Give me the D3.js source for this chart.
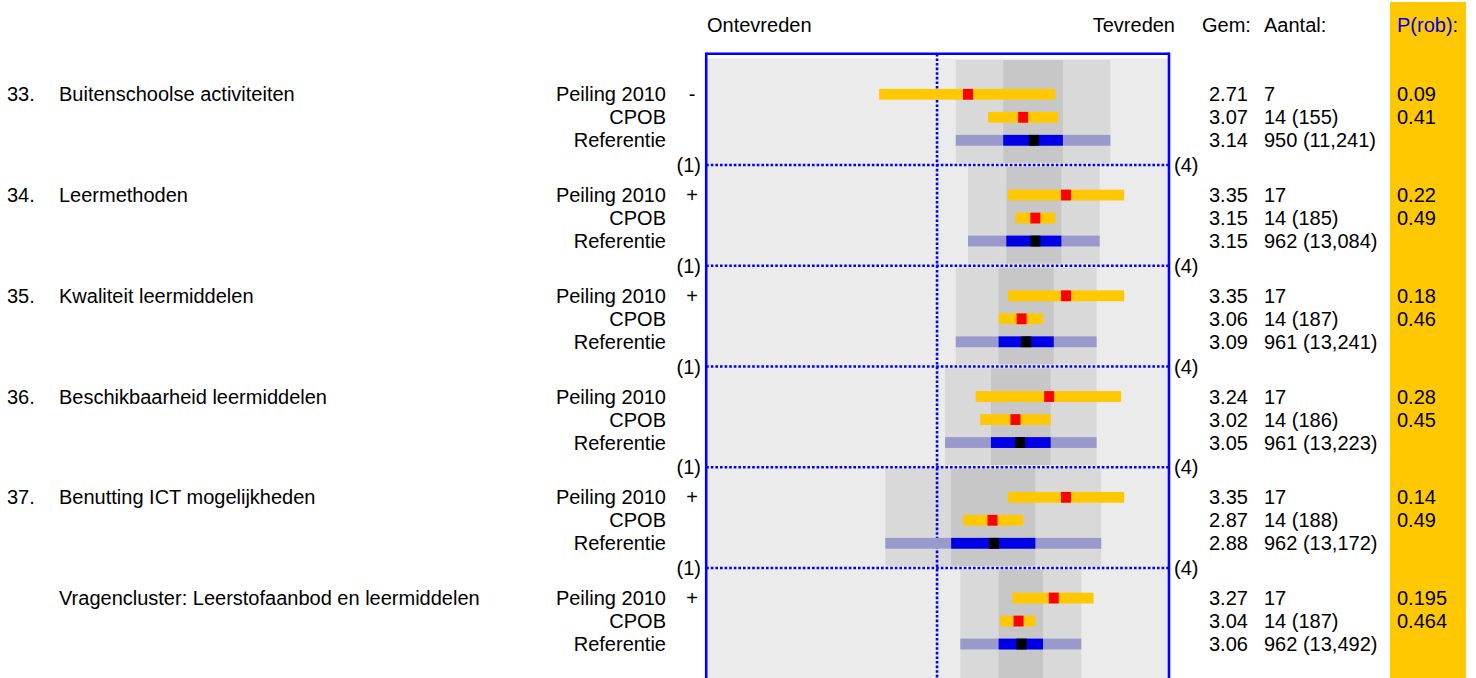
<!DOCTYPE html>
<html><head><meta charset="utf-8">
<script src="https://cdn.jsdelivr.net/npm/d3@7"></script>
<style>
html,body{margin:0;padding:0;background:#fff;}
svg{display:block;font-family:"Liberation Sans",Arial,sans-serif;font-size:20px;}
</style></head>
<body>
<svg id="chart" width="1476" height="678"></svg>
<script>
// ---- data ----
const groupNums   = ["33.", "34.", "35.", "36.", "37.", ""];
const groupLabels = ["Buitenschoolse activiteiten", "Leermethoden", "Kwaliteit leermiddelen",
                     "Beschikbaarheid leermiddelen", "Benutting ICT mogelijkheden",
                     "Vragencluster: Leerstofaanbod en leermiddelen"];
const signs       = ["-", "+", "+", "", "+", "+"];
const rowLabels   = ["Peiling 2010", "CPOB", "Referentie"];

const peilingMean = [2.71, 3.35, 3.35, 3.24, 3.35, 3.27];
const peilingLow  = [2.13, 2.97, 2.97, 2.76, 2.97, 3.00];
const peilingHigh = [3.28, 3.73, 3.73, 3.71, 3.73, 3.53];

const cpobMean = [3.07, 3.15, 3.06, 3.02, 2.87, 3.04];
const cpobLow  = [2.84, 3.02, 2.91, 2.79, 2.68, 2.92];
const cpobHigh = [3.30, 3.28, 3.20, 3.25, 3.07, 3.15];

const refMean      = [3.14, 3.15, 3.09, 3.05, 2.88, 3.06];
const refOuterLow  = [2.63, 2.71, 2.63, 2.56, 2.17, 2.66];
const refOuterHigh = [3.64, 3.57, 3.55, 3.55, 3.58, 3.45];
const refInnerLow  = [2.94, 2.96, 2.91, 2.86, 2.60, 2.91];
const refInnerHigh = [3.33, 3.32, 3.27, 3.25, 3.15, 3.20];

const peilingN = ["7", "17", "17", "17", "17", "17"];
const cpobN    = ["14 (155)", "14 (185)", "14 (187)", "14 (186)", "14 (188)", "14 (187)"];
const refN     = ["950 (11,241)", "962 (13,084)", "961 (13,241)", "961 (13,223)", "962 (13,172)", "962 (13,492)"];
const peilingP = ["0.09", "0.22", "0.18", "0.28", "0.14", "0.195"];
const cpobP    = ["0.41", "0.49", "0.46", "0.45", "0.49", "0.464"];

const scaleMin = 1, scaleMax = 4, scaleMid = 2.5;
const scaleMinLabel = "(1)", scaleMaxLabel = "(4)";
const headLeft = "Ontevreden", headRight = "Tevreden";
const headGem = "Gem:", headAantal = "Aantal:", headP = "P(rob):";

// ---- drawing ----
const svg = d3.select("#chart");
const W = 1476, H = 678;
const nG = groupNums.length;

const x = d3.scaleLinear().domain([scaleMin, scaleMax]).range([706.2, 1165.5]);
const gy = d3.scaleLinear().domain([0, nG]).range([63.6, 63.6 + nG * 100.75]);
const rowY = d3.scaleBand().domain([0, 1, 2]).range([19.2, 88.2]).paddingInner(0.53).paddingOuter(0.265);

const boxL = 706.2, boxR = 1169, boxT = 53.8;

const groups = d3.range(nG).map(i => ({
  i,
  rows: [
    {label: rowLabels[0], mean: peilingMean[i], lo: peilingLow[i], hi: peilingHigh[i], n: peilingN[i], p: peilingP[i], kind: "p"},
    {label: rowLabels[1], mean: cpobMean[i], lo: cpobLow[i], hi: cpobHigh[i], n: cpobN[i], p: cpobP[i], kind: "p"},
    {label: rowLabels[2], mean: refMean[i], lo: refOuterLow[i], hi: refOuterHigh[i], ilo: refInnerLow[i], ihi: refInnerHigh[i], n: refN[i], p: "", kind: "r"}
  ]
}));

// P(rob) column
svg.append("rect").attr("x", 1390).attr("y", 2).attr("width", 76).attr("height", H).attr("fill", "#ffc800");

// plot background
svg.append("rect").attr("x", boxL).attr("y", 58.5).attr("width", boxR - boxL).attr("height", H).attr("fill", "#ebebeb");

// bands per group
groups.forEach(g => {
  const top = g.i === 0 ? 60 : gy(g.i) + 2.4;
  const bot = g.i === nG - 1 ? H : gy(g.i + 1) - 1.5;
  const r = g.rows[2];
  svg.append("rect").attr("x", x(r.lo)).attr("y", top).attr("width", x(r.hi) - x(r.lo)).attr("height", bot - top).attr("fill", "#d9d9d9");
  svg.append("rect").attr("x", x(r.ilo)).attr("y", top).attr("width", x(r.ihi) - x(r.ilo)).attr("height", bot - top).attr("fill", "#c7c7c7");
});

// vertical dotted midline
svg.append("line").attr("x1", x(scaleMid) + 1.2).attr("x2", x(scaleMid) + 1.2).attr("y1", boxT).attr("y2", H)
  .attr("stroke", "#0000ff").attr("stroke-width", 2.6).attr("stroke-dasharray", "2.6,2");

// separators
d3.range(1, nG).forEach(i => {
  const yy = gy(i) + 0.7;
  svg.append("line").attr("x1", boxL).attr("x2", boxR).attr("y1", yy).attr("y2", yy)
    .attr("stroke", "#0000ff").attr("stroke-width", 2.6).attr("stroke-dasharray", "2.6,2");
  svg.append("text").attr("x", 701).attr("y", yy).attr("text-anchor", "end").attr("dominant-baseline", "central").attr("fill", "#000").text(scaleMinLabel);
  svg.append("text").attr("x", 1174).attr("y", yy).attr("text-anchor", "start").attr("dominant-baseline", "central").attr("fill", "#000").text(scaleMaxLabel);
});

// bars
const bh = rowY.bandwidth();
groups.forEach(g => {
  const top = gy(g.i);
  g.rows.forEach((r, k) => {
    const y0 = top + rowY(k);
    if (r.kind === "p") {
      svg.append("rect").attr("x", x(r.lo)).attr("y", y0).attr("width", x(r.hi) - x(r.lo)).attr("height", bh).attr("fill", "#ffc800");
      svg.append("rect").attr("x", x(r.mean) - 5).attr("y", y0).attr("width", 10).attr("height", bh).attr("fill", "#ff0000");
    } else {
      svg.append("rect").attr("x", x(r.lo)).attr("y", y0).attr("width", x(r.hi) - x(r.lo)).attr("height", bh).attr("fill", "#9999cc");
      svg.append("rect").attr("x", x(r.ilo)).attr("y", y0).attr("width", x(r.ihi) - x(r.ilo)).attr("height", bh).attr("fill", "#0000e6");
      svg.append("rect").attr("x", x(r.mean) - 5).attr("y", y0).attr("width", 10).attr("height", bh).attr("fill", "#000");
    }
    const cy = y0 + bh / 2;
    const t = (xx, txt, anchor, fill) => svg.append("text").attr("x", xx).attr("y", cy)
      .attr("text-anchor", anchor).attr("dominant-baseline", "central").attr("fill", fill || "#000").text(txt);
    t(666, r.label, "end");
    t(1209, r.mean.toFixed(2), "start");
    t(1264, r.n, "start");
    if (r.p) t(1397, r.p, "start");
    if (k === 0) {
      if (groupNums[g.i]) t(7, groupNums[g.i], "start");
      t(59, groupLabels[g.i], "start");
      if (signs[g.i]) t(692, signs[g.i], "middle");
    }
  });
});

// box border
svg.append("line").attr("x1", boxL).attr("x2", boxL).attr("y1", boxT - 1.3).attr("y2", H).attr("stroke", "#0000ff").attr("stroke-width", 2.6);
svg.append("line").attr("x1", boxR).attr("x2", boxR).attr("y1", boxT - 1.3).attr("y2", H).attr("stroke", "#0000ff").attr("stroke-width", 2.6);
svg.append("line").attr("x1", boxL).attr("x2", boxR).attr("y1", boxT).attr("y2", boxT).attr("stroke", "#0000ff").attr("stroke-width", 2.6);

// headers
const hy = 32;
svg.append("text").attr("x", 707).attr("y", hy).attr("text-anchor", "start").text(headLeft);
svg.append("text").attr("x", 1175).attr("y", hy).attr("text-anchor", "end").text(headRight);
svg.append("text").attr("x", 1202).attr("y", hy).attr("text-anchor", "start").text(headGem);
svg.append("text").attr("x", 1264).attr("y", hy).attr("text-anchor", "start").text(headAantal);
svg.append("text").attr("x", 1397).attr("y", hy).attr("text-anchor", "start").attr("fill", "#0000e6").text(headP);
</script>
</body></html>
